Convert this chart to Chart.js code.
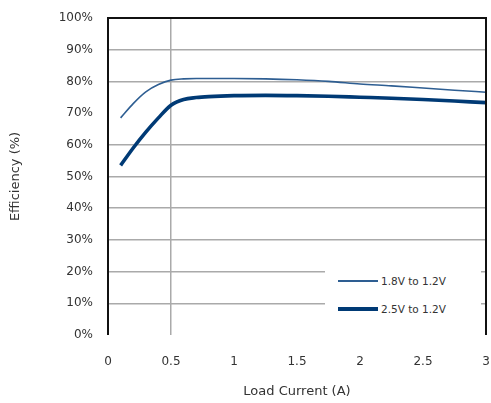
<!DOCTYPE html>
<html>
<head>
<meta charset="utf-8">
<script src="https://cdn.jsdelivr.net/npm/chart.js@4/dist/chart.umd.min.js"></script>
<style>
  html,body{margin:0;padding:0;background:#fff;}
  #wrap{position:relative;width:491px;height:403px;}
  #legend{position:absolute;left:325px;top:258px;width:156px;height:62px;background:#fff;font-family:"DejaVu Sans",sans-serif;font-size:10.5px;color:#333;}
  .item{position:absolute;left:13px;display:flex;align-items:center;}
  .sw{width:40px;margin-right:3px;}
</style>
</head>
<body>
<div id="wrap">
<canvas id="c" width="491" height="403"></canvas>
<div id="legend"></div>
</div>
<script>
const loadCurrent = [0.1,0.2,0.3,0.4,0.5,0.6,0.7,0.8,1.0,1.25,1.5,1.75,2.0,2.25,2.5,2.75,3.0];
const eff1 = [68.5,73,76.7,79,80.4,80.8,80.9,80.9,80.9,80.8,80.5,80.0,79.2,78.6,77.9,77.2,76.6];
const eff2 = [53.5,59,64,68.5,72.5,74.3,74.9,75.2,75.5,75.6,75.5,75.3,75.0,74.7,74.3,73.8,73.3];
const seriesNames = ["1.8V to 1.2V","2.5V to 1.2V"];
const yTicks = [0,10,20,30,40,50,60,70,80,90,100];
const xTicks = [0,0.5,1,1.5,2,2.5,3];

const colors = ["#2e5e92","#003a75"];
const widths = [1.6,3.6];

const frame = {
  id:'frame',
  afterDraw(chart){
    const {ctx, chartArea:a} = chart;
    ctx.save();
    ctx.strokeStyle = '#111';
    ctx.lineWidth = 2;
    ctx.beginPath();
    ctx.moveTo(a.left, a.bottom);
    ctx.lineTo(a.left, a.top);
    ctx.lineTo(a.right, a.top);
    ctx.lineTo(a.right, a.bottom);
    ctx.stroke();
    ctx.restore();
  }
};

const fontFam = '"DejaVu Sans", sans-serif';
new Chart(document.getElementById('c'), {
  type:'line',
  data:{
    datasets:[0,1].map(i=>({
      label: seriesNames[i],
      data: loadCurrent.map((x,k)=>({x, y: i===0?eff1[k]:eff2[k]})),
      borderColor: colors[i],
      borderWidth: widths[i],
      pointRadius:0,
      cubicInterpolationMode:'monotone',
      fill:false
    }))
  },
  options:{
    responsive:false,
    animation:false,
    layout:{padding:{top:18,right:5,left:0,bottom:0}},
    plugins:{legend:{display:false},tooltip:{enabled:false}},
    scales:{
      x:{
        type:'linear', min:0, max:3,
        afterBuildTicks(s){ s.ticks = xTicks.map(v=>({value:v})); },
        afterFit(s){ s.height = 68; s.paddingLeft = 0; s.paddingRight = 0; },
        border:{display:false},
        grid:{drawTicks:false, lineWidth:1.5,
          color:c=> (c.tick && c.tick.value===0.5) ? '#aaaaaa' : 'rgba(0,0,0,0)'},
        ticks:{padding:20, color:'#333', font:{family:fontFam,size:12},
          callback:v=>String(v)},
        title:{display:true, text:'Load Current (A)', color:'#333',
          font:{family:fontFam,size:13}, padding:{top:0,bottom:4}}
      },
      y:{
        min:0, max:100,
        afterBuildTicks(s){ s.ticks = yTicks.map(v=>({value:v})); },
        afterFit(s){ s.width = 108; s.paddingTop = 0; s.paddingBottom = 0; },
        border:{display:false},
        grid:{drawTicks:false, lineWidth:1.5,
          color:c=> (c.tick && (c.tick.value===70 || c.tick.value===0 || c.tick.value===100)) ? 'rgba(0,0,0,0)' : '#aaaaaa'},
        ticks:{padding:15, color:'#333', font:{family:fontFam,size:12},
          callback:v=>v+'%'},
        title:{display:true, text:'Efficiency (%)', color:'#333',
          font:{family:fontFam,size:13}, padding:{top:8,bottom:0}}
      }
    }
  },
  plugins:[frame]
});

const lg = document.getElementById('legend');
seriesNames.forEach((n,i)=>{
  const d = document.createElement('div');
  d.className='item';
  d.style.top = (i===0?23:51)+'px';
  d.style.transform='translateY(-50%)';
  const sw = document.createElement('span');
  sw.className='sw';
  sw.style.height = widths[i]+'px';
  sw.style.background = colors[i];
  const t = document.createElement('span');
  t.textContent = n;
  d.appendChild(sw); d.appendChild(t);
  lg.appendChild(d);
});
</script>
</body>
</html>
